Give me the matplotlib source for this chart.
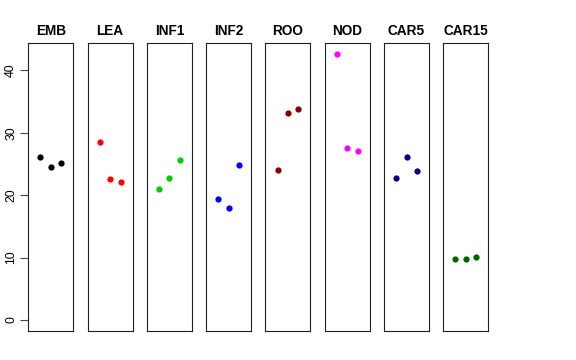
import numpy as np
import matplotlib
matplotlib.use("Agg")
import matplotlib.pyplot as plt

plt.rcParams['font.family'] = ['Liberation Sans', 'DejaVu Sans']

tissues = ["EMB", "LEA", "INF1", "INF2", "ROO", "NOD", "CAR5", "CAR15"]
colors = ["black", "red", "#00CD00", "blue", "#8B0000", "magenta", "#000080", "#006400"]
reps = [1, 2, 3]
emb = [26.1, 24.6, 25.2]
lea = [28.6, 22.6, 22.1]
inf1 = [21.0, 22.8, 25.7]
inf2 = [19.4, 17.9, 24.9]
roo = [24.1, 33.2, 33.9]
nod = [42.7, 27.5, 27.1]
car5 = [22.7, 26.1, 23.9]
car15 = [9.85, 9.85, 10.1]
values = [emb, lea, inf1, inf2, roo, nod, car5, car15]

W, H = 576, 360
ymax = max(max(v) for v in values)
ylim = (0 - 0.04 * ymax, ymax * 1.04)
xlim = (0 - 0.04 * 4, 4 * 1.04)

fig = plt.figure(figsize=(W / 100, H / 100), dpi=100)

x0, pitch, pw = 28.3, 59.29, 45.0
top, bot = 43.0, 330.7

for i, (name, col, vals) in enumerate(zip(tissues, colors, values)):
    left = x0 + i * pitch
    ax = fig.add_axes([left / W, 1 - bot / H, pw / W, (bot - top) / H])
    ax.plot(reps, vals, 'o', color=col, markersize=4.5, markeredgewidth=0)
    ax.set_xlim(xlim)
    ax.set_ylim(ylim)
    ax.set_xticks([])
    ax.set_title(name, fontsize=9.8, fontweight='bold', pad=6)
    for s in ax.spines.values():
        s.set_linewidth(0.8)
        s.set_color('#222222')
    if i == 0:
        ax.set_yticks([0, 10, 20, 30, 40])
        ax.tick_params(axis='y', length=6, width=0.8, labelsize=8.8, pad=2, colors='#444444', labelcolor='black')
        for lab in ax.get_yticklabels():
            lab.set_rotation(90)
            lab.set_va('center')
    else:
        ax.set_yticks([])

fig.savefig("out.png", dpi=100)
